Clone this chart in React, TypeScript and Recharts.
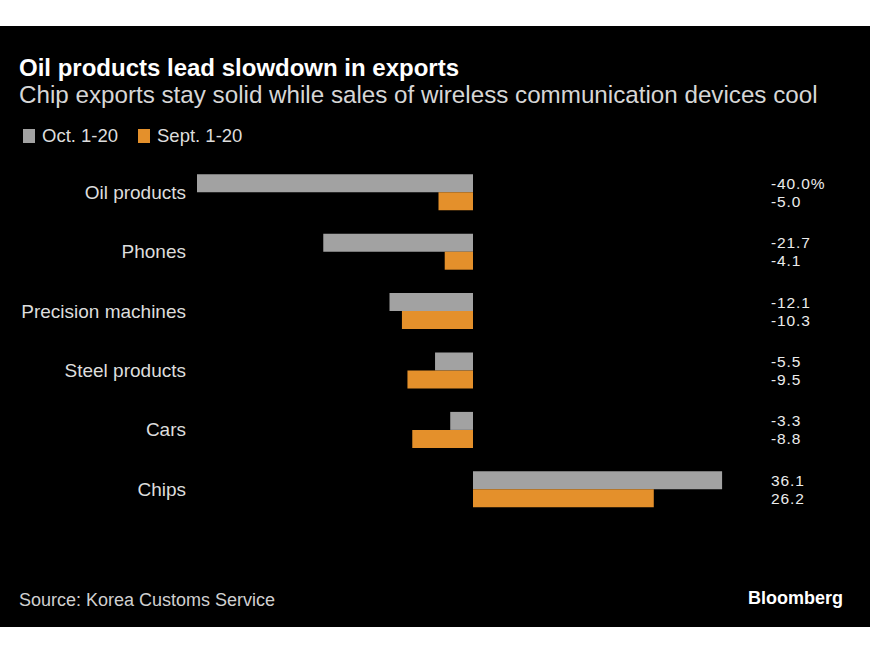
import React from 'react';
import { BarChart, Bar, XAxis, YAxis, LabelList } from 'recharts';

const categories = ['Oil products', 'Phones', 'Precision machines', 'Steel products', 'Cars', 'Chips'];
const octValues = [-40.0, -21.7, -12.1, -5.5, -3.3, 36.1];
const septValues = [-5.0, -4.1, -10.3, -9.5, -8.8, 26.2];
const seriesNames = ['Oct. 1-20', 'Sept. 1-20'];
const seriesColors = ['#a2a2a2', '#e4902b'];
const xDomain = [-40, 40];

const data = categories.map((c, i) => ({
  name: c,
  oct: octValues[i],
  sept: septValues[i],
  octLabel: octValues[i].toFixed(1) + (i === 0 ? '%' : ''),
  septLabel: septValues[i].toFixed(1),
}));

const FONT = '"Liberation Sans", Arial, sans-serif';
const VALUE_X = 771;

const ValueLabel = (props: any) => {
  const { y, height, value } = props;
  return (
    <text x={VALUE_X} y={y + height / 2} dy="0.36em" fill="#ececec" fontSize={15.5} letterSpacing={0.9} fontFamily={FONT} textAnchor="start">
      {value}
    </text>
  );
};

const CatTick = (props: any) => {
  const { x, y, payload } = props;
  return (
    <text x={x} y={y} dy="0.36em" fill="#dddddd" fontSize={19} fontFamily={FONT} textAnchor="end">
      {payload.value}
    </text>
  );
};

export default function App() {
  return (
    <div style={{ position: 'absolute', left: 0, top: 0, width: 870, height: 653, background: '#ffffff', fontFamily: FONT }}>
      <div style={{ position: 'absolute', left: 0, top: 26, width: 870, height: 601, background: '#000000' }} />
      <div style={{ position: 'absolute', left: 19, top: 56, fontSize: 24, lineHeight: '24px', fontWeight: 700, color: '#ffffff', whiteSpace: 'nowrap' }}>
        Oil products lead slowdown in exports
      </div>
      <div style={{ position: 'absolute', left: 19, top: 83, fontSize: 24.2, lineHeight: '24px', color: '#d6d6d6', whiteSpace: 'nowrap' }}>
        Chip exports stay solid while sales of wireless communication devices cool
      </div>
      {seriesNames.map((n, i) => (
        <div key={n} style={{ position: 'absolute', left: i === 0 ? 23 : 138, top: 129, height: 14, display: 'flex', alignItems: 'center', whiteSpace: 'nowrap' }}>
          <div style={{ width: 12, height: 14, background: seriesColors[i] }} />
          <span style={{ marginLeft: 7, fontSize: 18.5, color: '#dddddd', lineHeight: '14px' }}>{n}</span>
        </div>
      ))}
      <div style={{ position: 'absolute', left: 0, top: 140 }}>
        <BarChart
          width={870}
          height={400}
          layout="vertical"
          data={data}
          margin={{ top: 22.3, right: 121, bottom: 21.3, left: 0 }}
          barCategoryGap={12}
          barGap={0}
        >
          <XAxis type="number" domain={xDomain} hide allowDataOverflow />
          <YAxis
            type="category"
            dataKey="name"
            width={197}
            axisLine={false}
            tickLine={false}
            tickSize={0}
            tickMargin={11}
            tick={<CatTick />}
            interval={0}
          />
          <Bar dataKey="oct" name={seriesNames[0]} fill={seriesColors[0]} isAnimationActive={false}>
            <LabelList dataKey="octLabel" content={<ValueLabel />} />
          </Bar>
          <Bar dataKey="sept" name={seriesNames[1]} fill={seriesColors[1]} isAnimationActive={false}>
            <LabelList dataKey="septLabel" content={<ValueLabel />} />
          </Bar>
        </BarChart>
      </div>
      <div style={{ position: 'absolute', left: 19, top: 591, fontSize: 18, lineHeight: '18px', color: '#d0d0d0', whiteSpace: 'nowrap' }}>
        Source: Korea Customs Service
      </div>
      <div style={{ position: 'absolute', right: 27, top: 589, fontSize: 18, lineHeight: '18px', fontWeight: 700, color: '#ffffff', whiteSpace: 'nowrap' }}>
        Bloomberg
      </div>
    </div>
  );
}
